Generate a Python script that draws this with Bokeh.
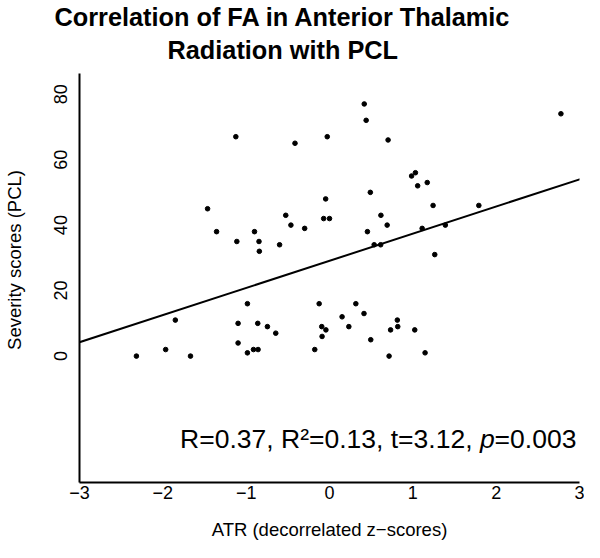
from bokeh.plotting import figure
from bokeh.models import Range1d, FixedTicker, Slope, Label, Title
from bokeh.embed import file_html
from bokeh.resources import INLINE

# ATR (decorrelated z-scores) and PCL severity scores
atr_z = [-1.124, -0.414, -0.027, -0.046, -1.463, -0.525, -0.070, 0.000,
         -1.355, -0.900, -0.463, -0.298, -1.112, -0.846, -0.599, -0.842,
         0.417, 0.440, 0.703, 2.777, 0.985, 1.031, 1.058, 1.173,
         0.490, 1.243, 1.792, 0.617, 0.692, 0.455, 1.112, 1.390,
         0.536, 0.614, 1.263, -0.985, -1.850, -1.097, -0.861, -0.745,
         -0.645, -1.097, -0.985, -0.912, -0.857, -1.966, -2.317, -1.668,
         -0.124, -0.093, -0.043, -0.089, -0.177, 0.151, 0.316, 0.414,
         0.232, 0.495, 0.814, 0.819, 0.733, 1.023, 0.715, 1.147]
pcl = [67, 65, 67, 48, 45, 43, 42, 42,
       38, 38, 40, 39, 35, 35, 34, 32,
       77, 72, 66, 74, 55, 56, 52, 53,
       50, 46, 46, 43, 40, 38, 39, 40,
       34, 34, 31, 16, 11, 10, 10, 9,
       7, 4, 1, 2, 2, 2, 0, 0,
       16, 9, 8, 6, 2, 12, 16, 13,
       9, 5, 11, 9, 8, 8, 0, 1]

x_ticks = [-3, -2, -1, 0, 1, 2, 3]
x_tick_labels = ["\u22123", "\u22122", "\u22121", "0", "1", "2", "3"]
y_ticks = [0, 20, 40, 60, 80]
y_tick_labels = ["0", "20", "40", "60", "80"]

fit_intercept = 29.1
fit_slope = 8.29

title_lines = ["Correlation of FA in Anterior Thalamic", "Radiation with PCL"]
x_label = "ATR (decorrelated z\u2212scores)"
y_label = "Severity scores (PCL)"
stats_parts = ["R=0.37, R\u00b2=0.13, t=3.12, ", "p", "=0.003"]

FONT = "Liberation Sans"

p = figure(width=584, height=542, output_backend="svg", toolbar_location=None,
           x_range=Range1d(-3, 3), y_range=Range1d(-38.6, 86.3),
           min_border_left=77, min_border_right=5, min_border_bottom=58,
           min_border_top=73, title=title_lines[0])
p.outline_line_color = None
p.grid.visible = False
p.background_fill_color = "white"
p.border_fill_color = "white"

# Titles (p.title is the outer line, the added one sits next to the frame)
p.title.text_font = FONT
p.title.text_font_size = "25.3px"
p.title.text_font_style = "bold"
p.title.text_color = "black"
p.title.align = "left"
p.title.offset = -25
p.title.standoff = -15
t2 = Title(text=title_lines[1], text_font=FONT, text_font_size="25.3px",
           text_font_style="bold", text_color="black", align="left",
           offset=88, standoff=20)
p.add_layout(t2, "above")

for ax in (p.xaxis[0], p.yaxis[0]):
    ax.axis_line_width = 2
    ax.axis_line_color = "black"
    ax.major_tick_line_color = None
    ax.minor_tick_line_color = None
    ax.major_tick_out = 0
    ax.major_tick_in = 0
    ax.minor_tick_out = 0
    ax.minor_tick_in = 0
    ax.major_label_text_font = FONT
    ax.major_label_text_font_size = "18px"
    ax.major_label_text_color = "black"
    ax.axis_label_text_font = FONT
    ax.axis_label_text_font_size = "18.5px"
    ax.axis_label_text_font_style = "normal"
    ax.axis_label_text_color = "black"

p.xaxis.ticker = FixedTicker(ticks=x_ticks)
p.xaxis.major_label_overrides = dict(zip(x_ticks, x_tick_labels))
p.xaxis.axis_label = x_label
p.xaxis.major_label_standoff = 3
p.xaxis.axis_label_standoff = 17

p.yaxis.ticker = FixedTicker(ticks=y_ticks)
p.yaxis.major_label_overrides = dict(zip(y_ticks, y_tick_labels))
p.yaxis.major_label_orientation = "vertical"
p.yaxis.major_label_standoff = 12
# leading no-break spaces move the centred label up to where the original has it
p.yaxis.axis_label = "\u00a0" * 7 + y_label
p.yaxis.axis_label_standoff = 27

p.scatter(atr_z, pcl, size=4.6, color="black")
p.add_layout(Slope(gradient=fit_slope, y_intercept=fit_intercept,
                   line_color="black", line_width=2))

# statistics text
sx, sy = -1.793, -25.2
offs = [0, 299.8, 314.5]
styles = ["normal", "italic", "normal"]
for part, off, st in zip(stats_parts, offs, styles):
    p.add_layout(Label(x=sx, y=sy, x_offset=off, text=part, text_font=FONT,
                       text_font_size="26.5px", text_font_style=st,
                       text_color="black", text_baseline="alphabetic",
                       text_align="left"))

open("out.html", "w").write(file_html(p, INLINE))
